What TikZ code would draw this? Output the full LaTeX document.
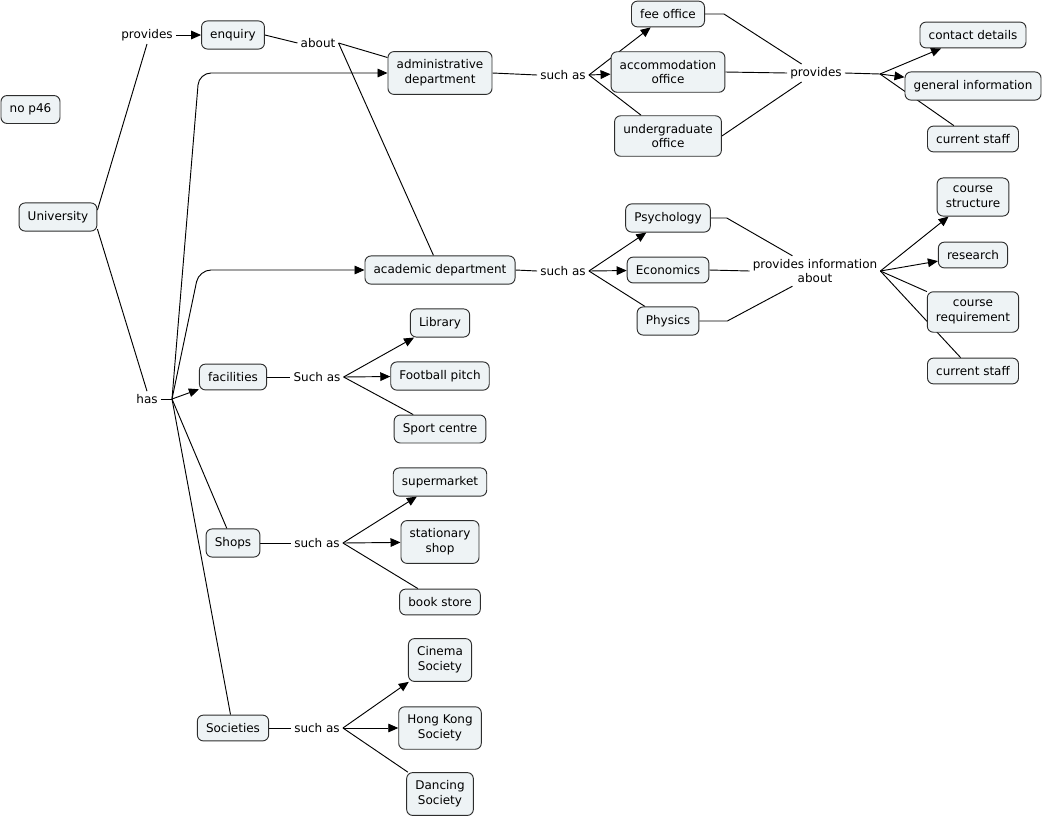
\documentclass[tikz,border=0pt]{standalone}
\usepackage{fontspec}
\setmainfont{DejaVu Sans}
\usepackage{xcolor}
\usetikzlibrary{arrows.meta,calc,backgrounds}

\definecolor{cmapfill}{RGB}{238,243,245}
\definecolor{cmapline}{RGB}{45,45,45}
\newcommand{\cmapfont}{\fontsize{9}{11}\selectfont}

\tikzset{
  concept/.style={draw=cmapline, fill=cmapfill, line width=0.7pt, rounded corners=4.5pt,
    align=center, inner xsep=6.5pt, inner ysep=6.2pt, font=\cmapfont},
  linkph/.style={inner sep=2.2pt, align=center, font=\cmapfont},
  conn/.style={draw=black, line width=0.7pt},
  arr/.style={conn, -{Triangle[length=7.5pt,width=6.5pt]}}
}

\begin{document}
\begin{tikzpicture}[x=0.75pt,y=0.75pt,yscale=-1,xscale=1]
\useasboundingbox (0,0) rectangle (1043,819);

% Concepts
\node[concept] (nop) at (30.5,109.5) {no p46};
\node[concept] (univ) at (58,217) {University};
\node[concept] (enq) at (233,35) {enquiry};
\node[concept] (admin) at (440,73) {administrative\\department};
\node[concept] (acad) at (440,270) {academic department};
\node[concept] (fee) at (668,14) {fee office};
\node[concept] (accom) at (668,72) {accommodation\\office};
\node[concept] (ugrad) at (668,136) {undergraduate\\office};
\node[concept] (contact) at (973,35) {contact details};
\node[concept] (geninfo) at (973,86) {general information};
\node[concept] (staffA) at (973,139) {current staff};
\node[concept] (psych) at (668,218) {Psychology};
\node[concept] (econ) at (668,270) {Economics};
\node[concept] (phys) at (668,321) {Physics};
\node[concept] (cstruct) at (973,197) {course\\structure};
\node[concept] (research) at (973,255) {research};
\node[concept] (creq) at (973,312) {course\\requirement};
\node[concept] (staffB) at (973,371) {current staff};
\node[concept] (facil) at (233,377) {facilities};
\node[concept] (lib) at (440,323) {Library};
\node[concept] (foot) at (440,376) {Football pitch};
\node[concept] (sport) at (440,429) {Sport centre};
\node[concept] (shops) at (233,543) {Shops};
\node[concept] (superm) at (440,482) {supermarket};
\node[concept] (stat) at (440,542) {stationary\\shop};
\node[concept] (book) at (440,602) {book store};
\node[concept] (socs) at (233,728) {Societies};
\node[concept] (cinema) at (440,660) {Cinema\\Society};
\node[concept] (hk) at (440,728) {Hong Kong\\Society};
\node[concept] (dance) at (440,794) {Dancing\\Society};

% Linking phrases
\node[linkph] (provL) at (147,35) {provides};
\node[linkph] (has) at (147,399) {has};
\node[linkph] (about) at (318,43) {about};
\node[linkph] (suchA) at (563,75) {such as};
\node[linkph] (suchB) at (563,271) {such as};
\node[linkph] (provR) at (816,73) {provides};
\node[linkph] (provInfo) at (815,271) {provides information\\about};
\node[linkph] (suchF) at (317,377) {Such as};
\node[linkph] (suchS) at (317,543) {such as};
\node[linkph] (suchSo) at (317,728) {such as};

% Junctions
\coordinate (hasJ) at (172,399);
\coordinate (bendH) at (199,0);
\coordinate (provJ) at (880,74);

\begin{scope}[on background layer]
% University
\draw[conn] (univ.10) -- (provL.south);
\draw[arr] (provL.east) -- (enq.west);
\draw[conn] (univ.-17) -- (has.north);
\draw[conn] (has.east) -- (hasJ);
\draw[arr, rounded corners=9pt] (hasJ) -- (bendH |- admin.west) -- (admin.west);
\draw[arr, rounded corners=9pt] (hasJ) -- (bendH |- acad.west) -- (acad.west);
\draw[arr] (hasJ) -- (facil);
\draw[conn] (hasJ) -- (shops);
\draw[conn] (hasJ) -- (socs);
% enquiry
\draw[conn] (enq.east) -- (about.west);
\draw[conn] (about.east) -- (admin);
\draw[conn] (about.east) -- (acad);
% administrative department
\draw[conn] (admin.east) -- (suchA.west);
\draw[arr] (suchA.east) -- (fee);
\draw[arr] (suchA.east) -- (accom);
\draw[conn] (suchA.east) -- (ugrad);
\draw[conn] (fee.east) -- ++(19,0) -- (provR.148);
\draw[conn] (accom.east) -- (provR.west);
\draw[conn] (ugrad.east) -- (provR.212);
\draw[conn] (provR.east) -- (provJ);
\draw[arr] (provJ) -- (contact);
\draw[arr] (provJ) -- (geninfo);
\draw[conn] (provJ) -- (staffA);
% academic department
\draw[conn] (acad.east) -- (suchB.west);
\draw[arr] (suchB.east) -- (psych);
\draw[arr] (suchB.east) -- (econ);
\draw[conn] (suchB.east) -- (phys);
\draw[conn] (psych.east) -- ++(16,0) -- (provInfo.146);
\draw[conn] (econ.east) -- (provInfo.west);
\draw[conn] (phys.east) -- ++(28,0) -- (provInfo.214);
\draw[arr] (provInfo.east) -- (cstruct);
\draw[arr] (provInfo.east) -- (research);
\draw[conn] (provInfo.east) -- (creq);
\draw[conn] (provInfo.east) -- (staffB);
% facilities
\draw[conn] (facil.east) -- (suchF.west);
\draw[arr] (suchF.east) -- (lib);
\draw[arr] (suchF.east) -- (foot);
\draw[conn] (suchF.east) -- (sport);
% shops
\draw[conn] (shops.east) -- (suchS.west);
\draw[arr] (suchS.east) -- (superm);
\draw[arr] (suchS.east) -- (stat);
\draw[conn] (suchS.east) -- (book);
% societies
\draw[conn] (socs.east) -- (suchSo.west);
\draw[arr] (suchSo.east) -- (cinema);
\draw[arr] (suchSo.east) -- (hk);
\draw[conn] (suchSo.east) -- (dance);
\end{scope}

\end{tikzpicture}
\end{document}
